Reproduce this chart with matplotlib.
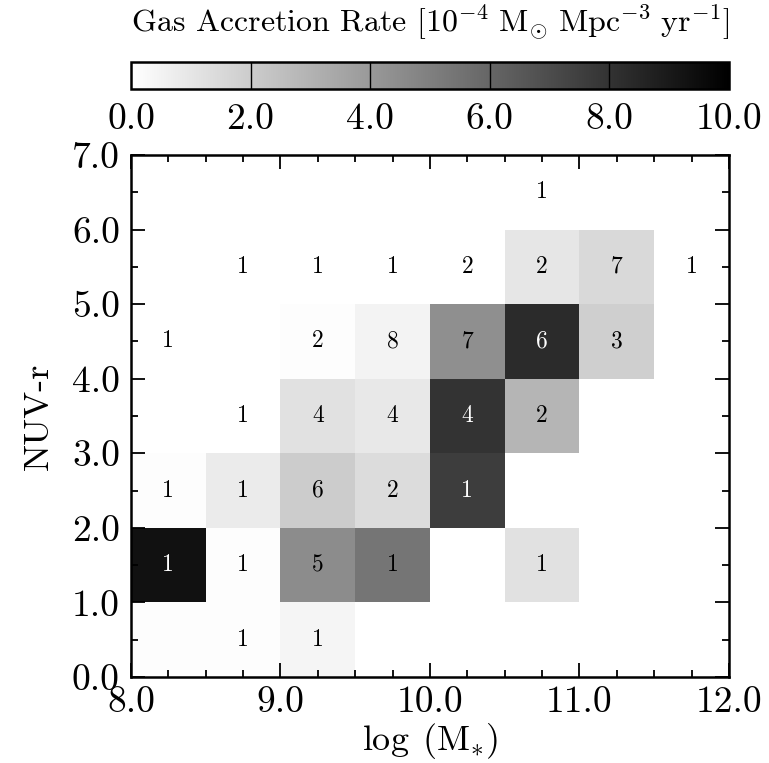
import matplotlib
matplotlib.use("Agg")
import matplotlib.pyplot as plt
import numpy as np
from matplotlib.ticker import MultipleLocator, FormatStrFormatter

plt.rcParams.update({
    "font.family": "cmr10",
    "mathtext.fontset": "cm",
    "axes.unicode_minus": False,
    "axes.formatter.use_mathtext": True,
    "font.size": 22,
})

# bin edges
x_edges = [8.0, 8.5, 9.0, 9.5, 10.0, 10.5, 11.0, 11.5, 12.0]
y_edges = [0.0, 1.0, 2.0, 3.0, 4.0, 5.0, 6.0, 7.0]

nan = np.nan
# gas accretion rate per cell (rows: NUV-r bins from 0 up, cols: mass bins)
rate = np.array([
    [0.1, 0.1, 0.4, nan, nan, nan, nan, nan],
    [9.3, 0.1, 4.5, 5.4, nan, 1.2, nan, nan],
    [0.1, 0.8, 2.0, 1.4, 7.6, nan, nan, nan],
    [nan, 0.0, 1.2, 0.9, 8.0, 2.9, nan, nan],
    [0.0, nan, 0.1, 0.5, 4.4, 8.3, 1.9, nan],
    [nan, 0.0, 0.0, 0.0, 0.0, 1.0, 1.5, 0.0],
    [nan, nan, nan, nan, nan, 0.0, nan, nan],
])

# number of galaxies per cell (0 = no label)
counts = np.array([
    [0, 1, 1, 0, 0, 0, 0, 0],
    [1, 1, 5, 1, 0, 1, 0, 0],
    [1, 1, 6, 2, 1, 0, 0, 0],
    [0, 1, 4, 4, 4, 2, 0, 0],
    [1, 0, 2, 8, 7, 6, 3, 0],
    [0, 1, 1, 1, 2, 2, 7, 1],
    [0, 0, 0, 0, 0, 1, 0, 0],
])

fig = plt.figure(figsize=(7.69, 7.63), dpi=100)
ax = fig.add_axes([0.1703, 0.1127, 0.7776, 0.6842])
cax = fig.add_axes([0.1703, 0.8834, 0.7776, 0.0354])

mesh = ax.pcolormesh(x_edges, y_edges, np.ma.masked_invalid(rate),
                     cmap="gray_r", vmin=0, vmax=10)

xc = 0.5 * (np.array(x_edges[:-1]) + np.array(x_edges[1:]))
yc = 0.5 * (np.array(y_edges[:-1]) + np.array(y_edges[1:]))
for i in range(len(yc)):
    for j in range(len(xc)):
        n = counts[i, j]
        if n > 0:
            col = "white" if (not np.isnan(rate[i, j]) and rate[i, j] > 6) else "black"
            ax.text(xc[j], yc[i], str(n), ha="center", va="center",
                    fontsize=17, color=col)

ax.set_xlim(8, 12)
ax.set_ylim(0, 7)
ax.xaxis.set_major_locator(MultipleLocator(1.0))
ax.xaxis.set_minor_locator(MultipleLocator(0.25))
ax.yaxis.set_major_locator(MultipleLocator(1.0))
ax.yaxis.set_minor_locator(MultipleLocator(0.5))
ax.xaxis.set_major_formatter(FormatStrFormatter("%.1f"))
ax.yaxis.set_major_formatter(FormatStrFormatter("%.1f"))
ax.tick_params(which="both", direction="in", top=True, right=True, labelsize=27)
ax.tick_params(which="major", length=10, width=1.3)
ax.tick_params(which="minor", length=5, width=1.3)
ax.tick_params(axis="x", which="major", pad=6)
ax.tick_params(axis="y", which="major", pad=8)
for s in ax.spines.values():
    s.set_linewidth(1.8)
ax.set_xlabel(r"$\log\;(\mathrm{M}_{*})$", fontsize=26, labelpad=2)
ax.set_ylabel("NUV-r", fontsize=26, labelpad=12)

cbar = fig.colorbar(mesh, cax=cax, orientation="horizontal")
cbar.set_ticks([0, 2, 4, 6, 8, 10])
cbar.ax.xaxis.set_major_formatter(FormatStrFormatter("%.1f"))
cbar.ax.tick_params(labelsize=27, direction="in", length=0, pad=10)
for v in [2, 4, 6, 8]:
    cbar.ax.axvline(v, color="black", lw=1)
cbar.outline.set_linewidth(1.8)
cbar.ax.xaxis.set_label_position("top")
cbar.set_label(r"Gas Accretion Rate [$\mathrm{10^{-4}\ M_{\odot}\ Mpc^{-3}\ yr^{-1}}$]",
               fontsize=23, labelpad=22)

fig.savefig("out.png", dpi=100)
